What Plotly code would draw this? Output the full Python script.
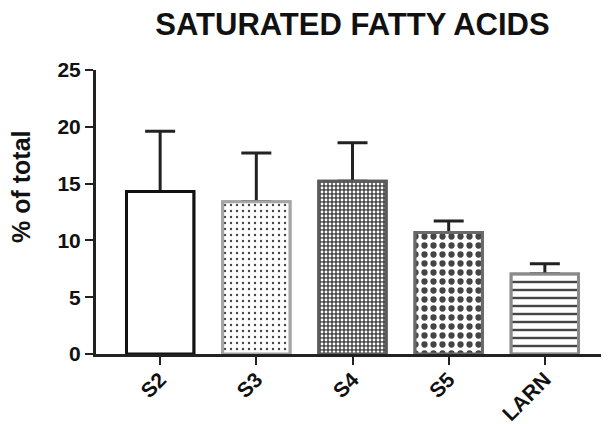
import plotly.graph_objects as go

categories = ["S2", "S3", "S4", "S5", "LARN"]
means = [14.3, 13.4, 15.2, 10.7, 7.05]
sd_upper = [5.3, 4.3, 3.4, 1.0, 0.9]
y_ticks = [0, 5, 10, 15, 20, 25]

title_text = "SATURATED FATTY ACIDS"
y_title = "% of total"

fill_colors = ["white", "white", "#474747", "white", "white"]
pattern_shapes = ["", ".", ".", ".", "-"]
pattern_fg = ["white", "#b0b0b0", "#e0e0e0", "#111111", "#8a8a8a"]
pattern_size = [8, 6, 4, 9, 8]
pattern_solidity = [0.3, 0.12, 0.4, 0.38, 0.3]
line_colors = ["#111111", "#a5a5a5", "#5a5a5a", "#6a6a6a", "#8a8a8a"]

font_family = "Liberation Sans, Arial, sans-serif"

# the page body has an 8px default margin; the figure is sized to fill the rest
BODY = 8
FIG_W = 609 - BODY
FIG_H = 424 - BODY


def bar_marker():
    return dict(
        color=fill_colors,
        line=dict(color=line_colors, width=3),
        pattern=dict(
            shape=pattern_shapes,
            fgcolor=pattern_fg,
            size=pattern_size,
            solidity=pattern_solidity,
            fillmode="overlay",
            fgopacity=1,
        ),
    )


fig = go.Figure()
# bars with upper error bars
fig.add_trace(go.Bar(
    x=categories,
    y=means,
    width=0.7,
    marker=bar_marker(),
    error_y=dict(
        type="data",
        symmetric=False,
        array=sd_upper,
        arrayminus=[0] * len(sd_upper),
        color="#222222",
        thickness=3,
        width=15,
    ),
    showlegend=False,
    hoverinfo="skip",
))
# same bars drawn again on top so the lower cap of the error bar is hidden
fig.add_trace(go.Bar(
    x=categories,
    y=means,
    width=0.7,
    marker=bar_marker(),
    showlegend=False,
))

fig.update_layout(
    width=FIG_W,
    height=FIG_H,
    margin=dict(l=96 - BODY, r=0, t=70 - BODY, b=70, autoexpand=False),
    paper_bgcolor="white",
    plot_bgcolor="white",
    barmode="overlay",
    font=dict(family=font_family, color="#111111"),
    title=dict(
        text="<b>" + title_text + "</b>",
        x=0.5,
        xref="paper",
        xanchor="center",
        y=1 - 16 / FIG_H,
        yref="container",
        yanchor="middle",
        font=dict(size=31, family=font_family, color="#111111"),
    ),
    annotations=[dict(
        text="<b>" + y_title + "</b>",
        textangle=-90,
        xref="paper",
        yref="paper",
        x=(21 - 96) / 513,
        y=(354 - 187) / 284,
        xanchor="center",
        yanchor="middle",
        showarrow=False,
        font=dict(size=25, family=font_family, color="#111111"),
    )],
)

fig.update_xaxes(
    type="category",
    range=[-0.667, 4.667],
    automargin=False,
    showline=True,
    linecolor="#222222",
    linewidth=3,
    ticks="outside",
    ticklen=8,
    tickwidth=2,
    tickcolor="#222222",
    tickangle=-45,
    ticklabelstandoff=-6,
    tickfont=dict(size=21, family=font_family, color="#111111", weight="bold"),
    showgrid=False,
    zeroline=False,
)

fig.update_yaxes(
    range=[0, 25],
    tickvals=y_ticks,
    automargin=False,
    showline=True,
    linecolor="#222222",
    linewidth=3,
    ticks="outside",
    ticklen=8,
    tickwidth=2,
    tickcolor="#222222",
    tickfont=dict(size=21, family=font_family, color="#111111", weight="bold"),
    showgrid=False,
    zeroline=False,
)

fig.write_html("out.html")
